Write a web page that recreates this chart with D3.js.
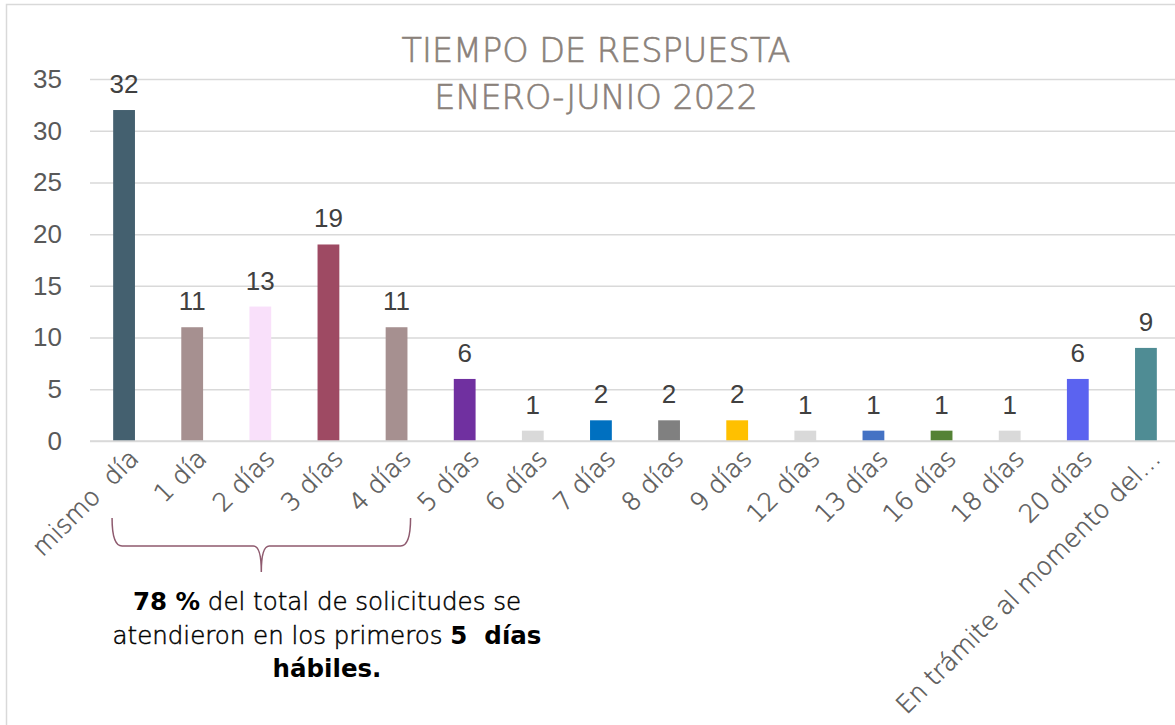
<!DOCTYPE html>
<html>
<head>
<meta charset="utf-8">
<script src="https://cdn.jsdelivr.net/npm/d3@7"></script>
<style>
  html, body { margin: 0; padding: 0; background: #fff; }
  svg { display: block; }
</style>
</head>
<body>
<svg id="chart" width="1175" height="725"></svg>
<script>
const categories = ["mismo  día", "1 día", "2 días", "3 días", "4 días", "5 días", "6 días", "7 días",
  "8 días", "9 días", "12 días", "13 días", "16 días", "18 días", "20 días", "En trámite al momento del…"];
const values = [32, 11, 13, 19, 11, 6, 1, 2, 2, 2, 1, 1, 1, 1, 6, 9];
const barColors = ["#44606F", "#A69090", "#F9E0FA", "#9E4A63", "#A69090", "#7030A0", "#D9D9D9", "#0070C0",
  "#808080", "#FFC000", "#D9D9D9", "#4472C4", "#548235", "#D9D9D9", "#5B63F0", "#4F8C94"];
const yTicks = [0, 5, 10, 15, 20, 25, 30, 35];
const titleLines = ["TIEMPO DE RESPUESTA", "ENERO-JUNIO 2022"];
const noteLines = [
  [["78 %", true], [" del total de solicitudes se", false]],
  [["atendieron en los primeros ", false], ["5  días", true]],
  [["hábiles.", true]]
];

const svg = d3.select("#chart");
const gothic = "'DejaVu Sans', 'Noto Sans', sans-serif";
const arial = "'Liberation Sans', Arial, sans-serif";

// chart border
svg.append("rect").attr("x", 6.5).attr("y", 4.5).attr("width", 1300).attr("height", 900)
  .attr("fill", "#fff").attr("stroke", "#D9D9D9").attr("stroke-width", 1.5);

const x = d3.scaleBand().domain(categories).range([90, 1180]).paddingInner(0.68).paddingOuter(0.34);
const y = d3.scaleLinear().domain([0, 35]).range([441, 79]);

// y axis with gridlines
const yAxis = svg.append("g").attr("transform", "translate(90,0)")
  .call(d3.axisLeft(y).tickValues(yTicks).tickSizeInner(-1090).tickSizeOuter(0).tickPadding(28));
yAxis.select(".domain").remove();
yAxis.selectAll(".tick line").attr("stroke", "#D9D9D9").attr("stroke-width", 1.5);
yAxis.selectAll(".tick text").attr("fill", "#595959").style("font-family", arial).style("font-size", "26px");

// title
svg.append("g").selectAll("text").data(titleLines).join("text")
  .attr("x", 596).attr("y", (d, i) => 62 + i * 46.5)
  .attr("text-anchor", "middle").attr("fill", "#8A817A")
  .attr("stroke", "#8A817A").attr("stroke-width", 0.6)
  .style("font-family", gothic).style("font-size", "33.5px").style("font-weight", 200)
  .text(d => d);

// bars
svg.append("g").selectAll("rect").data(values).join("rect")
  .attr("x", (d, i) => x(categories[i]))
  .attr("y", d => y(d))
  .attr("width", x.bandwidth())
  .attr("height", d => y(0) - y(d))
  .attr("fill", (d, i) => barColors[i]);

// value labels
svg.append("g").selectAll("text").data(values).join("text")
  .attr("x", (d, i) => x(categories[i]) + x.bandwidth() / 2)
  .attr("y", d => y(d) - 17)
  .attr("text-anchor", "middle").attr("fill", "#404040")
  .style("font-family", arial).style("font-size", "26px")
  .text(d => d);

// x axis
const xAxis = svg.append("g").attr("transform", "translate(0,441)")
  .call(d3.axisBottom(x).tickSize(0).tickSizeOuter(0));
xAxis.select(".domain").attr("stroke", "#D9D9D9").attr("stroke-width", 1.5).attr("d", "M90,0H1180");
xAxis.selectAll(".tick text")
  .attr("x", 0).attr("y", 0).attr("dy", 0)
  .attr("transform", "translate(16,19) rotate(-45)")
  .attr("text-anchor", "end").attr("fill", "#595959")
  .attr("stroke", "#595959").attr("stroke-width", 0.5)
  .style("font-family", gothic).style("font-size", "25px").style("font-weight", 200)
  .style("white-space", "pre");

// brace annotation
const bl = x(categories[0]) + x.bandwidth() / 2 - 12;
const br = x(categories[4]) + x.bandwidth() / 2 + 14;
const bm = (bl + br) / 2;
const yTop = 518, yMid = 546, yTip = 572;
svg.append("path")
  .attr("d", `M${bl},${yTop} Q${bl},${yMid} ${bl + 10},${yMid} H${bm - 8} Q${bm},${yMid} ${bm},${yTip} Q${bm},${yMid} ${bm + 8},${yMid} H${br - 10} Q${br},${yMid} ${br},${yTop}`)
  .attr("fill", "none").attr("stroke", "#8E5A6E").attr("stroke-width", 1.5);

const note = svg.append("g");
noteLines.forEach((parts, i) => {
  const t = note.append("text").attr("x", 327).attr("y", 610 + i * 33.5)
    .attr("text-anchor", "middle").attr("fill", "#000")
    .style("font-family", gothic).style("font-size", "24.5px").style("white-space", "pre");
  parts.forEach(([s, b]) => t.append("tspan")
    .style("font-weight", b ? "bold" : 200)
    .attr("stroke", b ? "none" : "#000").attr("stroke-width", 0.5)
    .text(s));
});
</script>
</body>
</html>
